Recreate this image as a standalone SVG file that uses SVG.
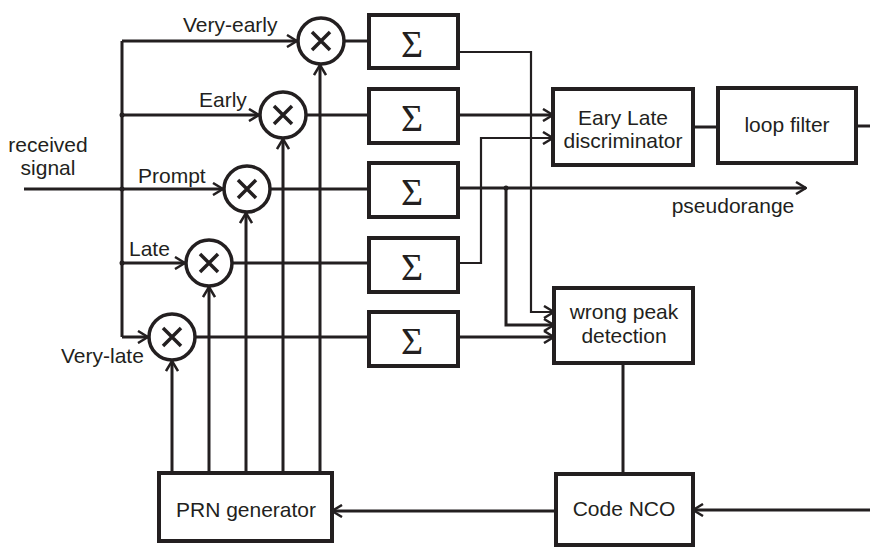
<svg xmlns="http://www.w3.org/2000/svg" width="870" height="548" viewBox="0 0 870 548">
<defs>
<marker id="arr" markerUnits="userSpaceOnUse" viewBox="0 0 12 14" refX="11" refY="7" markerWidth="12" markerHeight="14" orient="auto">
<path d="M1,1 L11,7 L1,13" fill="none" stroke="#231f20" stroke-width="2.5"/>
</marker>
</defs>
<style>
.box{fill:#fff;stroke:#231f20;stroke-width:4}
.mix{fill:#fff;stroke:#231f20;stroke-width:3.5}
.x{stroke:#231f20;stroke-width:3.5;fill:none}
.w{fill:none;stroke:#231f20;stroke-width:3}
.t{fill:none;stroke:#231f20;stroke-width:2.2}
.a{marker-end:url(#arr)}
.lbl{font-family:"Liberation Sans",Arial,sans-serif;font-size:21px;fill:#231f20}
.c{text-anchor:middle}
.sig{font-family:"Liberation Serif","Times New Roman",serif;font-size:38px;fill:#231f20;text-anchor:middle}
.dot{fill:#231f20}
</style>
<rect width="870" height="548" fill="#fff"/>

<g id="connectors">
<path class="w a" d="M24,189 H223"/>
<path class="w" d="M122,41 V337"/>
<path class="w a" d="M122,41 H297"/>
<path class="w a" d="M122,115 H259"/>
<path class="w a" d="M122,263 H185"/>
<path class="w a" d="M122,337 H148"/>
<circle class="dot" cx="122" cy="115" r="2.5"/>
<circle class="dot" cx="122" cy="189" r="2.5"/>
<circle class="dot" cx="122" cy="263" r="2.5"/>
<path class="w a" d="M172,473 V361"/>
<path class="w a" d="M209,473 V287"/>
<path class="w a" d="M246,473 V213"/>
<path class="w a" d="M283,473 V139"/>
<path class="w a" d="M320,473 V65"/>
<path class="w" d="M345,41 H369"/>
<path class="w" d="M307,115 H369"/>
<path class="w" d="M271,189 H369"/>
<path class="w" d="M233,263 H369"/>
<path class="w" d="M196,337 H369"/>
<path class="t a" d="M458,52 H531 V312 H554"/>
<path class="w a" d="M458,115 H553"/>
<path class="t a" d="M458,263 H481 V138 H553"/>
<path class="w a" d="M458,188 H806"/>
<circle class="dot" cx="506" cy="188" r="2.5"/>
<path class="w a" d="M506,188 V325 H554"/>
<path class="w a" d="M458,337 H554"/>
<path class="w" d="M693,127 H718"/>
<path class="w" d="M856,126 H870"/>
<path class="w" d="M623,363 V474"/>
<path class="w a" d="M556,511 H332"/>
<path class="w a" d="M870,510 H693"/>
</g>

<g id="labels">
<text class="lbl c" x="48" y="152">received</text>
<text class="lbl c" x="48" y="175">signal</text>
<text class="lbl" x="183" y="32">Very-early</text>
<text class="lbl" x="199" y="107">Early</text>
<text class="lbl" x="138" y="183">Prompt</text>
<text class="lbl" x="129" y="256">Late</text>
<text class="lbl" x="61" y="363">Very-late</text>
<text class="lbl c" x="733" y="213">pseudorange</text>
</g>

<g id="mix-very-early"><circle class="mix" cx="321" cy="41" r="23"/><path class="x" d="M312,32 L330,50 M330,32 L312,50"/></g>
<g id="mix-early"><circle class="mix" cx="283" cy="115" r="23"/><path class="x" d="M274,106 L292,124 M292,106 L274,124"/></g>
<g id="mix-prompt"><circle class="mix" cx="247" cy="189" r="23"/><path class="x" d="M238,180 L256,198 M256,180 L238,198"/></g>
<g id="mix-late"><circle class="mix" cx="209" cy="263" r="23"/><path class="x" d="M200,254 L218,272 M218,254 L200,272"/></g>
<g id="mix-very-late"><circle class="mix" cx="172" cy="337" r="23"/><path class="x" d="M163,328 L181,346 M181,328 L163,346"/></g>

<g id="sum-very-early"><rect class="box" x="369" y="15" width="89" height="53"/><text class="sig" x="412" y="57">Σ</text></g>
<g id="sum-early"><rect class="box" x="369" y="89" width="89" height="54"/><text class="sig" x="412" y="131">Σ</text></g>
<g id="sum-prompt"><rect class="box" x="369" y="163" width="89" height="54"/><text class="sig" x="412" y="205">Σ</text></g>
<g id="sum-late"><rect class="box" x="369" y="238" width="89" height="54"/><text class="sig" x="412" y="280">Σ</text></g>
<g id="sum-very-late"><rect class="box" x="369" y="312" width="89" height="54"/><text class="sig" x="412" y="354">Σ</text></g>

<g id="discriminator"><rect class="box" x="553" y="89" width="140" height="76"/><text class="lbl c" x="623" y="125">Eary Late</text><text class="lbl c" x="623" y="148">discriminator</text></g>
<g id="loop-filter"><rect class="box" x="718" y="88" width="138" height="75"/><text class="lbl c" x="787" y="132">loop filter</text></g>
<g id="wrong-peak"><rect class="box" x="554" y="288" width="139" height="75"/><text class="lbl c" x="624" y="319">wrong peak</text><text class="lbl c" x="624" y="343">detection</text></g>
<g id="code-nco"><rect class="box" x="556" y="474" width="137" height="71"/><text class="lbl c" x="624" y="516">Code NCO</text></g>
<g id="prn-generator"><rect class="box" x="159" y="473" width="173" height="68"/><text class="lbl c" x="246" y="517">PRN generator</text></g>
</svg>
